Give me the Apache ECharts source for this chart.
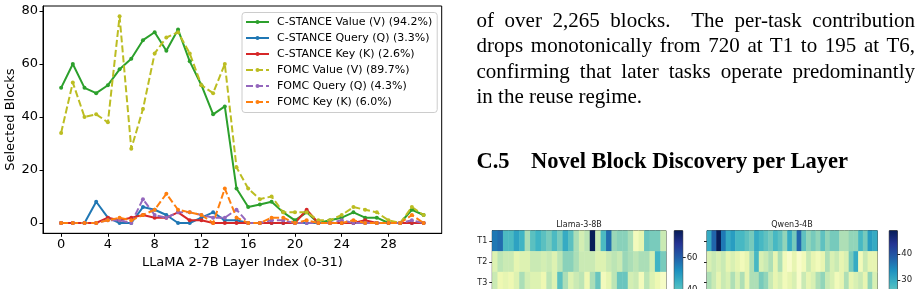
<!DOCTYPE html>
<html>
<head>
<meta charset="utf-8">
<script src="https://cdn.jsdelivr.net/npm/echarts@6/dist/echarts.min.js"></script>
<style>
body { margin: 0; background: #fff; }
#wrap { position: relative; width: 921px; height: 289px; overflow: hidden; }
#chart { position: absolute; left: 0; top: 0; width: 921px; height: 289px; }
.para { position: absolute; left: 476.5px; top: 7.5px; width: 438.5px; font-family: 'Liberation Serif', serif; font-size: 21px; line-height: 25.5px; color: #000; }
.para div { text-align: justify; text-align-last: justify; }
.para div.last { text-align: left; text-align-last: left; }
.head { position: absolute; top: 150px; font-family: 'Liberation Serif', serif; font-weight: bold; font-size: 22.5px; line-height: 22.5px; color: #000; white-space: nowrap; }
</style>
</head>
<body>
<div id="wrap">
  <div id="chart"></div>
  <div class="para">
    <div>of over 2,265 blocks.&nbsp; The per-task contribution</div>
    <div>drops monotonically from 720 at T1 to 195 at T6,</div>
    <div>confirming that later tasks operate predominantly</div>
    <div class="last">in the reuse regime.</div>
  </div>
  <div class="head" style="left:476.5px">C.5</div>
  <div class="head" style="left:531px">Novel Block Discovery per Layer</div>
</div>
<script>
// line chart data (LLaMA 2-7B layers)
const layers = [0, 1, 2, 3, 4, 5, 6, 7, 8, 9, 10, 11, 12, 13, 14, 15, 16, 17, 18, 19, 20, 21, 22, 23, 24, 25, 26, 27, 28, 29, 30, 31]
const cstanceV = [51, 60, 51, 49, 52, 58, 62, 69, 72, 65, 73, 61, 52, 41, 44, 13, 6, 7, 8, 4, 1, 4, 0, 1, 2, 4, 2, 2, 0, 0, 5, 3]
const cstanceQ = [0, 0, 0, 8, 2, 0, 0, 6, 5, 3, 0, 0, 2, 4, 1, 1, 0, 0, 0, 0, 0, 0, 0, 0, 0, 0, 0, 0, 0, 0, 0, 0]
const cstanceK = [0, 0, 0, 0, 2, 1, 2, 3, 2, 2, 4, 1, 1, 0, 0, 0, 0, 0, 0, 0, 0, 5, 0, 0, 0, 0, 1, 0, 0, 0, 0, 0]
const fomcV = [34, 53, 40, 41, 38, 78, 28, 43, 64, 70, 72, 64, 52, 49, 60, 21, 13, 9, 10, 4, 4, 4, 1, 1, 3, 6, 5, 4, 1, 0, 6, 3]
const fomcQ = [0, 0, 0, 0, 1, 1, 0, 9, 3, 2, 4, 4, 3, 2, 2, 5, 0, 0, 1, 1, 0, 0, 0, 0, 1, 0, 0, 0, 0, 0, 1, 0]
const fomcK = [0, 0, 0, 0, 1, 2, 1, 3, 5, 11, 5, 4, 3, 0, 13, 2, 0, 0, 2, 2, 0, 1, 0, 0, 0, 1, 0, 0, 0, 0, 3, 0]
const xTicks = [0, 4, 8, 12, 16, 20, 24, 28]
const yTicks = [0, 20, 40, 60, 80]

// heatmap data (novel blocks per layer, rows T1..T3 visible)
const tasks = ['T1', 'T2', 'T3', 'T4', 'T5', 'T6']
const llamaT1 = [56, 58, 42, 42, 48, 44, 30, 40, 44, 40, 36, 42, 36, 46, 40, 30, 24, 28, 77, 26, 42, 58, 32, 34, 34, 30, 16, 20, 38, 36, 36, 26]
const llamaT2 = [22, 28, 26, 26, 20, 22, 22, 26, 26, 24, 26, 22, 28, 34, 34, 30, 26, 26, 26, 22, 22, 26, 28, 26, 32, 30, 28, 30, 30, 24, 44, 36]
const llamaT3 = [26, 18, 20, 18, 22, 30, 24, 22, 22, 18, 28, 22, 40, 30, 22, 26, 28, 18, 30, 38, 16, 20, 28, 38, 38, 24, 26, 16, 28, 22, 18, 14]
const qwenT1 = [30, 38, 49, 36, 30, 32, 28, 28, 26, 24, 30, 28, 26, 24, 28, 26, 22, 30, 24, 38, 26, 22, 24, 22, 26, 22, 24, 24, 20, 20, 22, 22, 28, 24, 32, 30]
const qwenT2 = [16, 18, 16, 18, 14, 16, 14, 12, 14, 20, 28, 16, 18, 20, 14, 20, 12, 10, 14, 10, 12, 18, 14, 12, 14, 20, 16, 18, 14, 16, 24, 30, 12, 18, 14, 14]
const qwenT3 = [20, 18, 14, 18, 16, 20, 16, 20, 14, 20, 20, 24, 22, 18, 14, 16, 12, 14, 16, 10, 18, 14, 16, 20, 22, 18, 16, 12, 14, 20, 14, 16, 18, 14, 22, 16]
const llamaTicks = [20, 40, 60]
const qwenTicks = [10, 20, 30, 40]

const ylgnbu = ['#ffffd9', '#edf8b1', '#c7e9b4', '#7fcdbb', '#41b6c4', '#1d91c0', '#225ea8', '#253494', '#081d58']
const font = 'DejaVu Sans'

function pairs (vals) {
  return vals.map((v, i) => [layers[i], v])
}

function lineSeries (name, vals, color, dashed) {
  return {
    name: name,
    type: 'line',
    xAxisIndex: 0,
    yAxisIndex: 0,
    data: pairs(vals),
    symbol: 'circle',
    symbolSize: 4,
    color: color,
    lineStyle: { width: 2, type: dashed ? [7, 3] : 'solid' },
    itemStyle: { color: color },
    emphasis: { disabled: true }
  }
}

function cells (rows) {
  let out = []
  rows.forEach((row, r) => {
    row.forEach((v, c) => out.push([c, r, v]))
  })
  return out
}

function colorbar (grid, min, max) {
  let stops = ylgnbu.map((c, i) => ({ offset: i / (ylgnbu.length - 1), color: c }))
  return {
    type: 'bar',
    xAxisIndex: grid,
    yAxisIndex: grid,
    data: [max],
    barWidth: '100%',
    clip: true,
    itemStyle: { color: new echarts.graphic.LinearGradient(0, 1, 0, 0, stops) },
    emphasis: { disabled: true }
  }
}

function heatAxes (grid, n, labels) {
  let cats = []
  for (let i = 0; i < n; i++) cats.push(String(i))
  return {
    x: {
      type: 'category', gridIndex: grid, data: cats,
      axisLine: { show: false }, axisTick: { show: false }, axisLabel: { show: false }, splitLine: { show: false }
    },
    y: {
      type: 'category', gridIndex: grid, data: tasks, inverse: true,
      axisLine: { show: true, lineStyle: { color: '#222' } },
      axisTick: { show: true, length: 3, alignWithLabel: true, lineStyle: { color: '#222' } },
      axisLabel: { show: labels, interval: 0, fontSize: 8, color: '#222', margin: 5, fontFamily: font },
      splitLine: { show: false }
    }
  }
}

function barAxes (grid, min, max, ticks) {
  return {
    x: { type: 'category', gridIndex: grid, data: ['c'], show: false },
    y: {
      type: 'value', gridIndex: grid, min: min, max: max, position: 'right',
      axisLine: { show: false },
      axisTick: { show: true, length: 3, customValues: ticks, lineStyle: { color: '#222' } },
      axisLabel: { fontSize: 8.5, color: '#222', margin: 4, customValues: ticks, fontFamily: font },
      splitLine: { show: false }
    }
  }
}

const ha = heatAxes(1, 32, true)
const hb = barAxes(2, 10, 77, llamaTicks)
const qa = heatAxes(3, 36, false)
const qb = barAxes(4, 8, 49, qwenTicks)

let option = {
  animation: false,
  textStyle: { fontFamily: font },
  title: [
    { text: 'Llama-3-8B', left: 579, top: 221, textAlign: 'center', padding: 0, textStyle: { fontSize: 8, fontWeight: 'normal', color: '#222', fontFamily: font } },
    { text: 'Qwen3-4B', left: 792, top: 221, textAlign: 'center', padding: 0, textStyle: { fontSize: 8, fontWeight: 'normal', color: '#222', fontFamily: font } }
  ],
  legend: {
    orient: 'vertical',
    left: 242,
    top: 12.5,
    padding: [3, 5, 4, 3],
    itemWidth: 23,
    itemHeight: 5,
    itemGap: 3,
    selectedMode: false,
    backgroundColor: 'rgba(255,255,255,0.8)',
    borderColor: '#cccccc',
    borderWidth: 1,
    borderRadius: 3,
    textStyle: { fontSize: 11, color: '#000', lineHeight: 13, fontFamily: font, padding: [0, 0, 0, 3] },
    data: ['C-STANCE Value (V) (94.2%)', 'C-STANCE Query (Q) (3.3%)', 'C-STANCE Key (K) (2.6%)',
      'FOMC Value (V) (89.7%)', 'FOMC Query (Q) (4.3%)', 'FOMC Key (K) (6.0%)']
  },
  grid: [
    { left: 43, top: 6, width: 398.7, height: 227.3, outerBoundsMode: 'none', show: true, borderColor: '#000', borderWidth: 1, backgroundColor: 'transparent' },
    { left: 492.3, top: 230.7, width: 173.7, height: 124.2, outerBoundsMode: 'none', show: true, borderColor: '#222', borderWidth: 1 },
    { left: 674.3, top: 230.7, width: 8.4, height: 106.4, outerBoundsMode: 'none', show: true, borderColor: '#222', borderWidth: 1 },
    { left: 707, top: 230.7, width: 170.3, height: 124.2, outerBoundsMode: 'none', show: true, borderColor: '#222', borderWidth: 1 },
    { left: 889.3, top: 230.7, width: 8, height: 106.6, outerBoundsMode: 'none', show: true, borderColor: '#222', borderWidth: 1 }
  ],
  xAxis: [
    {
      type: 'value', gridIndex: 0, min: -1.55, max: 32.55,
      axisLine: { show: true, onZero: false, lineStyle: { color: '#000', width: 1 } },
      axisTick: { show: true, length: 3.5, customValues: xTicks, lineStyle: { color: '#000' } },
      axisLabel: { fontSize: 13, color: '#000', margin: 5, customValues: xTicks, fontFamily: font },
      splitLine: { show: false },
      name: 'LLaMA 2-7B Layer Index (0-31)',
      nameLocation: 'middle',
      nameGap: 18,
      nameTextStyle: { fontSize: 13, color: '#000', fontFamily: font }
    },
    ha.x, hb.x, qa.x, qb.x
  ],
  yAxis: [
    {
      type: 'value', gridIndex: 0, min: -3.9, max: 81.9,
      axisLine: { show: true, onZero: false, lineStyle: { color: '#000', width: 1 } },
      axisTick: { show: true, length: 3.5, customValues: yTicks, lineStyle: { color: '#000' } },
      axisLabel: { fontSize: 13, color: '#000', margin: 5, customValues: yTicks, fontFamily: font },
      splitLine: { show: false },
      name: 'Selected Blocks',
      nameLocation: 'middle',
      nameRotate: 90,
      nameGap: 24,
      nameTextStyle: { fontSize: 13, color: '#000', fontFamily: font }
    },
    ha.y, hb.y, qa.y, qb.y
  ],
  visualMap: [
    { type: 'continuous', show: false, seriesIndex: 6, min: 10, max: 77, inRange: { color: ylgnbu } },
    { type: 'continuous', show: false, seriesIndex: 8, min: 8, max: 49, inRange: { color: ylgnbu } }
  ],
  series: [
    lineSeries('C-STANCE Value (V) (94.2%)', cstanceV, '#2ca02c', false),
    lineSeries('C-STANCE Query (Q) (3.3%)', cstanceQ, '#1f77b4', false),
    lineSeries('C-STANCE Key (K) (2.6%)', cstanceK, '#d62728', false),
    lineSeries('FOMC Value (V) (89.7%)', fomcV, '#bcbd22', true),
    lineSeries('FOMC Query (Q) (4.3%)', fomcQ, '#9467bd', true),
    lineSeries('FOMC Key (K) (6.0%)', fomcK, '#ff7f0e', true),
    { type: 'heatmap', xAxisIndex: 1, yAxisIndex: 1, data: cells([llamaT1, llamaT2, llamaT3]), emphasis: { disabled: true } },
    colorbar(2, 10, 77),
    { type: 'heatmap', xAxisIndex: 3, yAxisIndex: 3, data: cells([qwenT1, qwenT2, qwenT3]), emphasis: { disabled: true } },
    colorbar(4, 8, 49)
  ]
}

let myChart = echarts.init(document.getElementById('chart'), null, { renderer: 'canvas' })
myChart.setOption(option)
</script>
</body>
</html>
